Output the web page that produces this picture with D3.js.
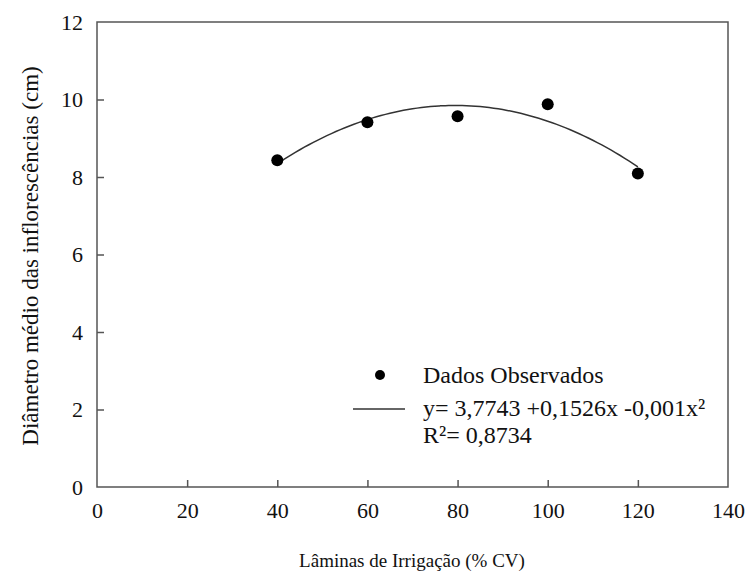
<!DOCTYPE html>
<html>
<head>
<meta charset="utf-8">
<script src="https://cdn.jsdelivr.net/npm/d3@7"></script>
<style>
  body { margin: 0; background: #fff; }
  text { font-family: "Liberation Serif", "DejaVu Serif", "Times New Roman", serif; fill: #111; }
</style>
</head>
<body>
<div id="chart"></div>
<script>
// observed data
const laminas = [40, 60, 80, 100, 120];
const diametro = [8.43, 9.41, 9.57, 9.88, 8.09];
const xTicks = [0, 20, 40, 60, 80, 100, 120, 140];
const yTicks = [0, 2, 4, 6, 8, 10, 12];

const W = 748, H = 576;
const margin = { top: 22, right: 20, bottom: 89, left: 97 };
const width = 728 - margin.left;
const height = 487 - margin.top;
const serif = "Liberation Serif, DejaVu Serif, serif";

const svg = d3.select("#chart").append("svg")
  .attr("width", W)
  .attr("height", H);

const g = svg.append("g")
  .attr("transform", "translate(" + margin.left + "," + margin.top + ")");

const xScale = d3.scaleLinear().domain([0, 140]).range([0, width]);
const yScale = d3.scaleLinear().domain([0, 12]).range([height, 0]);

// quadratic least squares fit of the observed points
function quadFit(xs, ys) {
  let s = [0, 0, 0, 0, 0], t = [0, 0, 0];
  xs.forEach((x, i) => {
    for (let k = 0; k < 5; k++) s[k] += Math.pow(x, k);
    for (let k = 0; k < 3; k++) t[k] += ys[i] * Math.pow(x, k);
  });
  const A = [[s[0], s[1], s[2], t[0]], [s[1], s[2], s[3], t[1]], [s[2], s[3], s[4], t[2]]];
  for (let i = 0; i < 3; i++) {
    for (let j = i + 1; j < 3; j++) {
      const f = A[j][i] / A[i][i];
      for (let k = i; k < 4; k++) A[j][k] -= f * A[i][k];
    }
  }
  const c = [0, 0, 0];
  for (let i = 2; i >= 0; i--) {
    let v = A[i][3];
    for (let k = i + 1; k < 3; k++) v -= A[i][k] * c[k];
    c[i] = v / A[i][i];
  }
  return c;
}
const coef = quadFit(laminas, diametro);

const axisColor = "#555";

// box
g.append("rect")
  .attr("width", width)
  .attr("height", height)
  .style("fill", "none")
  .style("stroke", axisColor)
  .style("stroke-width", 1.5);

// axis-x (ticks inside)
const xAxis = g.append("g")
  .attr("transform", "translate(0," + height + ")")
  .call(d3.axisBottom(xScale).tickValues(xTicks).tickSizeInner(-7).tickSizeOuter(0).tickPadding(15));
xAxis.select(".domain").remove();
xAxis.selectAll("line").style("stroke", axisColor).style("stroke-width", 1.5)
  .filter(d => d === 0 || d === 140).remove();
xAxis.selectAll("text").style("font-size", "22px").style("font-family", serif).attr("fill", "#111");

// axis-y
const yAxis = g.append("g")
  .call(d3.axisLeft(yScale).tickValues(yTicks).tickSizeInner(-7).tickSizeOuter(0).tickPadding(14));
yAxis.select(".domain").remove();
yAxis.selectAll("line").style("stroke", axisColor).style("stroke-width", 1.5)
  .filter(d => d === 0 || d === 12).remove();
yAxis.selectAll("text").style("font-size", "22px").style("font-family", serif).attr("fill", "#111");

// axis titles
svg.append("text")
  .attr("x", 412)
  .attr("y", 567)
  .attr("text-anchor", "middle")
  .style("font-size", "19px")
  .text("Lâminas de Irrigação (% CV)");

svg.append("text")
  .attr("transform", "translate(38,256) rotate(-90)")
  .attr("text-anchor", "middle")
  .style("font-size", "23px")
  .text("Diâmetro médio das inflorescências (cm)");

// fitted curve
const curveX = d3.range(40, 120.5, 1);
const line = d3.line()
  .x(d => xScale(d))
  .y(d => yScale(coef[0] + coef[1] * d + coef[2] * d * d))
  .curve(d3.curveMonotoneX);

g.append("path")
  .attr("d", line(curveX))
  .style("fill", "none")
  .style("stroke", "#333")
  .style("stroke-width", 1.5);

// observed points
g.selectAll("circle.obs")
  .data(laminas)
  .enter()
  .append("circle")
  .attr("class", "obs")
  .attr("cx", d => xScale(d))
  .attr("cy", (d, i) => yScale(diametro[i]))
  .attr("r", 6)
  .style("fill", "#000");

// legend
const leg = svg.append("g");
leg.append("circle").attr("cx", 380).attr("cy", 375).attr("r", 5).style("fill", "#000");
leg.append("text").attr("x", 423).attr("y", 383).style("font-size", "24px").text("Dados Observados");
leg.append("line").attr("x1", 353).attr("x2", 405).attr("y1", 409).attr("y2", 409)
  .style("stroke", "#333").style("stroke-width", 1.5);
leg.append("text").attr("x", 423).attr("y", 416).style("font-size", "24px")
  .text("y= 3,7743 +0,1526x -0,001x²");
leg.append("text").attr("x", 423).attr("y", 443).style("font-size", "24px")
  .text("R²= 0,8734");
</script>
</body>
</html>
